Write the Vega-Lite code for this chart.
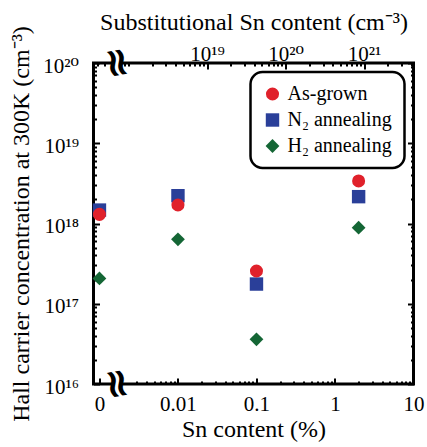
{
  "$schema": "https://vega.github.io/schema/vega-lite/v6.json",
  "width": 320,
  "height": 321,
  "autosize": "none",
  "padding": {"left": 93.5, "top": 63, "right": 13.5, "bottom": 63},
  "background": "white",
  "config": {
    "view": {"stroke": "black", "strokeWidth": 3},
    "font": "Liberation Serif",
    "axis": {
      "labelFont": "Liberation Serif, DejaVu Serif",
      "labelFontSize": 21,
      "labelColor": "black",
      "titleFont": "Liberation Serif",
      "titleFontSize": 24,
      "titleFontWeight": "normal",
      "titleColor": "black",
      "tickColor": "black",
      "tickWidth": 2,
      "ticks": true,
      "domain": false,
      "grid": false,
      "labelFlush": false,
      "labelOverlap": false,
      "zindex": 1
    },
    "legend": {
      "labelFont": "Liberation Serif",
      "labelFontSize": 20,
      "labelColor": "black",
      "strokeColor": "black",
      "strokeWidth": 2.5,
      "cornerRadius": 12,
      "padding": 12,
      "rowPadding": 6,
      "labelOffset": 5,
      "symbolStrokeWidth": 0,
      "symbolOpacity": 1
    }
  },
  "datasets": {
    "points": [
      {"condition": "N₂ annealing", "sn": 0.001, "n": 1.47e18},
      {"condition": "N₂ annealing", "sn": 0.01, "n": 2.22e18},
      {"condition": "N₂ annealing", "sn": 0.1, "n": 1.76e17},
      {"condition": "N₂ annealing", "sn": 2, "n": 2.16e18},
      {"condition": "As-grown", "sn": 0.001, "n": 1.30e18},
      {"condition": "As-grown", "sn": 0.01, "n": 1.70e18},
      {"condition": "As-grown", "sn": 0.1, "n": 2.56e17},
      {"condition": "As-grown", "sn": 2, "n": 3.39e18},
      {"condition": "H₂ annealing", "sn": 0.001, "n": 2.07e17},
      {"condition": "H₂ annealing", "sn": 0.01, "n": 6.35e17},
      {"condition": "H₂ annealing", "sn": 0.1, "n": 3.6e16},
      {"condition": "H₂ annealing", "sn": 2, "n": 8.87e17}
    ],
    "topaxis": [{"s": 1e19, "c": 1e18}]
  },
  "layer": [
    {
      "layer": [
        {
          "data": {"name": "points"},
          "mark": {"type": "point", "filled": true, "opacity": 1, "strokeWidth": 0},
          "encoding": {
            "x": {
              "field": "sn",
              "type": "quantitative",
              "scale": {"type": "log", "domain": [0.00084, 10], "nice": false},
              "axis": {
                "orient": "bottom",
                "title": "Sn content (%)",
                "values": [0.001, 0.003, 0.004, 0.005, 0.006, 0.007, 0.008, 0.009, 0.01, 0.02, 0.03, 0.04, 0.05, 0.06, 0.07, 0.08, 0.09, 0.1, 0.2, 0.3, 0.4, 0.5, 0.6, 0.7, 0.8, 0.9, 1, 2, 3, 4, 5, 6, 7, 8, 9, 10],
                "labelExpr": "datum.value == 0.001 ? '0' : datum.value == 0.01 ? '0.01' : datum.value == 0.1 ? '0.1' : datum.value == 1 ? '1' : datum.value == 10 ? '10' : ''",
                "tickSize": {"condition": {"test": "indexof([0.001, 0.01, 0.1, 1, 10], datum.value) >= 0", "value": -6}, "value": -3},
                "labelPadding": 15,
                "titlePadding": 0
              }
            },
            "y": {
              "field": "n",
              "type": "quantitative",
              "scale": {"type": "log", "domain": [1e16, 1e20], "nice": false},
              "axis": {
                "orient": "left",
                "title": "Hall carrier concentration at 300K (cm⁻³)",
                "values": [1e16, 2e16, 3e16, 4e16, 5e16, 6e16, 7e16, 8e16, 9e16, 1e17, 2e17, 3e17, 4e17, 5e17, 6e17, 7e17, 8e17, 9e17, 1e18, 2e18, 3e18, 4e18, 5e18, 6e18, 7e18, 8e18, 9e18, 1e19, 2e19, 3e19, 4e19, 5e19, 6e19, 7e19, 8e19, 9e19, 1e20],
                "labelExpr": "datum.value == 1e16 ? '10¹⁶' : datum.value == 1e17 ? '10¹⁷' : datum.value == 1e18 ? '10¹⁸' : datum.value == 1e19 ? '10¹⁹' : datum.value == 1e20 ? '10²⁰' : ''",
                "tickSize": {"condition": {"test": "indexof([1e16, 1e17, 1e18, 1e19, 1e20], datum.value) >= 0", "value": -6}, "value": -3},
                "labelPadding": 21,
                "labelOffset": 3,
                "titlePadding": 9
              }
            },
            "color": {
              "field": "condition",
              "type": "nominal",
              "scale": {"domain": ["As-grown", "N₂ annealing", "H₂ annealing"], "range": ["#e0212b", "#2a3f99", "#146635"]},
              "legend": {"title": null, "orient": "top-right", "offset": 9}
            },
            "shape": {
              "field": "condition",
              "type": "nominal",
              "scale": {"domain": ["As-grown", "N₂ annealing", "H₂ annealing"], "range": ["circle", "square", "diamond"]},
              "legend": {"title": null, "orient": "top-right", "offset": 9}
            },
            "size": {
              "field": "condition",
              "type": "nominal",
              "scale": {"domain": ["As-grown", "N₂ annealing", "H₂ annealing"], "range": [170, 190, 200]},
              "legend": {"title": null, "orient": "top-right", "offset": 9}
            }
          }
        },
        {
          "data": {"values": [{}]},
          "mark": {"type": "rect", "color": "white"},
          "encoding": {
            "x": {"datum": 0.00145, "type": "quantitative"},
            "x2": {"datum": 0.00188},
            "y": {"datum": 1.154e20, "type": "quantitative"},
            "y2": {"datum": 8.66e19}
          }
        },
        {
          "data": {"values": [{}]},
          "mark": {"type": "rect", "color": "white"},
          "encoding": {
            "x": {"datum": 0.00145, "type": "quantitative"},
            "x2": {"datum": 0.00188},
            "y": {"datum": 1.154e16, "type": "quantitative"},
            "y2": {"datum": 8.66e15}
          }
        },
        {
          "data": {"values": [{}]},
          "mark": {"type": "text", "text": "≈", "font": "DejaVu Sans", "fontSize": 40, "fontWeight": "bold", "angle": 80, "align": "center", "baseline": "middle", "color": "black"},
          "encoding": {
            "x": {"datum": 0.00165, "type": "quantitative"},
            "y": {"datum": 1e20, "type": "quantitative"}
          }
        },
        {
          "data": {"values": [{}]},
          "mark": {"type": "text", "text": "≈", "font": "DejaVu Sans", "fontSize": 40, "fontWeight": "bold", "angle": 80, "align": "center", "baseline": "middle", "color": "black"},
          "encoding": {
            "x": {"datum": 0.00165, "type": "quantitative"},
            "y": {"datum": 1e16, "type": "quantitative"}
          }
        }
      ]
    },
    {
      "data": {"name": "topaxis"},
      "mark": {"type": "point", "opacity": 0},
      "encoding": {
        "x": {
          "field": "s",
          "type": "quantitative",
          "scale": {"type": "log", "domain": [3.58e17, 4.26e21], "nice": false},
          "axis": {
            "orient": "top",
            "title": "Substitutional Sn content (cm⁻³)",
            "values": [4e17, 5e17, 6e17, 7e17, 8e17, 9e17, 1e18, 2e18, 3e18, 4e18, 5e18, 6e18, 7e18, 8e18, 9e18, 1e19, 2e19, 3e19, 4e19, 5e19, 6e19, 7e19, 8e19, 9e19, 1e20, 2e20, 3e20, 4e20, 5e20, 6e20, 7e20, 8e20, 9e20, 1e21, 2e21, 3e21, 4e21],
            "labelExpr": "datum.value == 1e19 ? '10¹⁹' : datum.value == 1e20 ? '10²⁰' : datum.value == 1e21 ? '10²¹' : ''",
            "tickSize": {"condition": {"test": "indexof([1e19, 1e20, 1e21], datum.value) >= 0", "value": -6}, "value": -3},
            "labelPadding": 5,
            "titlePadding": 6
          }
        },
        "y": {
          "field": "c",
          "type": "quantitative",
          "scale": {"type": "log", "domain": [1e16, 1e20], "nice": false},
          "axis": {
            "orient": "right",
            "title": null,
            "labels": false,
            "values": [1e16, 2e16, 3e16, 4e16, 5e16, 6e16, 7e16, 8e16, 9e16, 1e17, 2e17, 3e17, 4e17, 5e17, 6e17, 7e17, 8e17, 9e17, 1e18, 2e18, 3e18, 4e18, 5e18, 6e18, 7e18, 8e18, 9e18, 1e19, 2e19, 3e19, 4e19, 5e19, 6e19, 7e19, 8e19, 9e19, 1e20],
            "tickSize": {"condition": {"test": "indexof([1e16, 1e17, 1e18, 1e19, 1e20], datum.value) >= 0", "value": -6}, "value": -3}
          }
        }
      }
    }
  ],
  "resolve": {"scale": {"x": "independent"}, "axis": {"y": "independent"}}
}
